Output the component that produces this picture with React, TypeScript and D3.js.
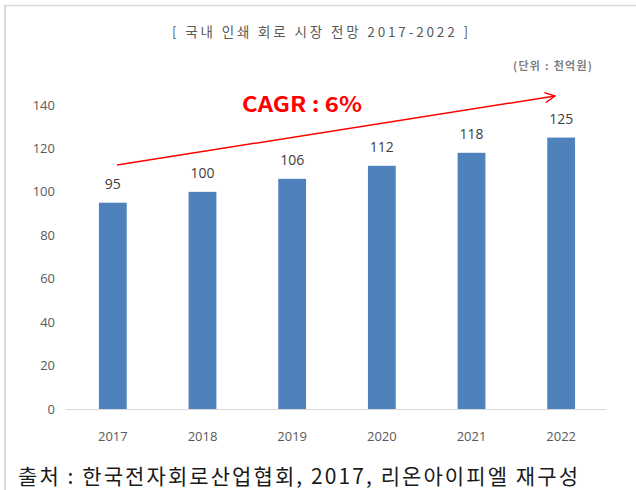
import React from "react";
import * as d3 from "d3";

const years = ["2017", "2018", "2019", "2020", "2021", "2022"];
const values = [95, 100, 106, 112, 118, 125];
const yTicks = [0, 20, 40, 60, 80, 100, 120, 140];
const title = "[ 국내 인쇄 회로 시장 전망 2017-2022 ]";
const unit = "(단위 : 천억원)";
const cagr = "CAGR : 6%";
const source = "출처 : 한국전자회로산업협회, 2017, 리온아이피엘 재구성";

const W = 636, H = 490;
const KR = "'Noto Sans CJK KR', 'Noto Sans', sans-serif";
const NUM = "'Open Sans', 'Noto Sans CJK KR', sans-serif";

export default function App() {
  const x = d3.scaleBand<string>().domain(years).range([68, 606]).paddingInner(0.69).paddingOuter(0.345);
  const y = d3.scaleLinear().domain([0, 140]).range([409, 105]);
  return (
    <svg width={W} height={H} style={{ position: "absolute", left: 0, top: 0 }} fontFamily={KR}>
      <defs>
        <marker id="arr" viewBox="0 0 12 12" refX="11" refY="6" markerWidth="12" markerHeight="12" markerUnits="userSpaceOnUse" orient="auto">
          <path d="M1,1 L11,6 L1,11" fill="none" stroke="#ff0000" strokeWidth="1.5" />
        </marker>
      </defs>
      <rect x={0} y={0} width={W} height={H} fill="#fff" />
      <line x1={4} x2={W} y1={5.5} y2={5.5} stroke="#d9d9d9" strokeWidth={1.5} />
      <line x1={5} x2={5} y1={5} y2={H} stroke="#d9d9d9" strokeWidth={2} />
      <text x={172} y={37} fontSize={13.5} fill="#595959" textLength={296} lengthAdjust="spacing">{title}</text>
      <text x={513} y={70} fontSize={11} fontWeight="bold" fill="#7f7f7f" textLength={79} lengthAdjust="spacing">{unit}</text>
      {yTicks.map(t => (
        <text key={t} x={55} y={y(t)} dy="0.35em" textAnchor="end" fontSize={13} fontFamily={NUM} fill="#595959">{t}</text>
      ))}
      <line x1={66} x2={606} y1={409.5} y2={409.5} stroke="#d9d9d9" strokeWidth={1} />
      {years.map((yr, i) => (
        <g key={yr}>
          <rect x={x(yr)!} y={y(values[i])} width={x.bandwidth()} height={409 - y(values[i])} fill="#4f81bd" />
          <text x={x(yr)! + x.bandwidth() / 2} y={y(values[i]) - 14} textAnchor="middle" fontSize={14} fontFamily={NUM} fill="#404040">{values[i]}</text>
          <text x={x(yr)! + x.bandwidth() / 2} y={441} textAnchor="middle" fontSize={13} fontFamily={NUM} fill="#595959">{yr}</text>
        </g>
      ))}
      <line x1={117} y1={165} x2={555} y2={96} stroke="#ff0000" strokeWidth={1.5} markerEnd="url(#arr)" />
      <text x={242} y={112} fontSize={21} fontWeight="bold" fill="#ff0000" textLength={120} lengthAdjust="spacingAndGlyphs">{cagr}</text>
      <text x={18} y={484} fontSize={21} fill="#1a1a1a" textLength={560} lengthAdjust="spacing">{source}</text>
    </svg>
  );
}
